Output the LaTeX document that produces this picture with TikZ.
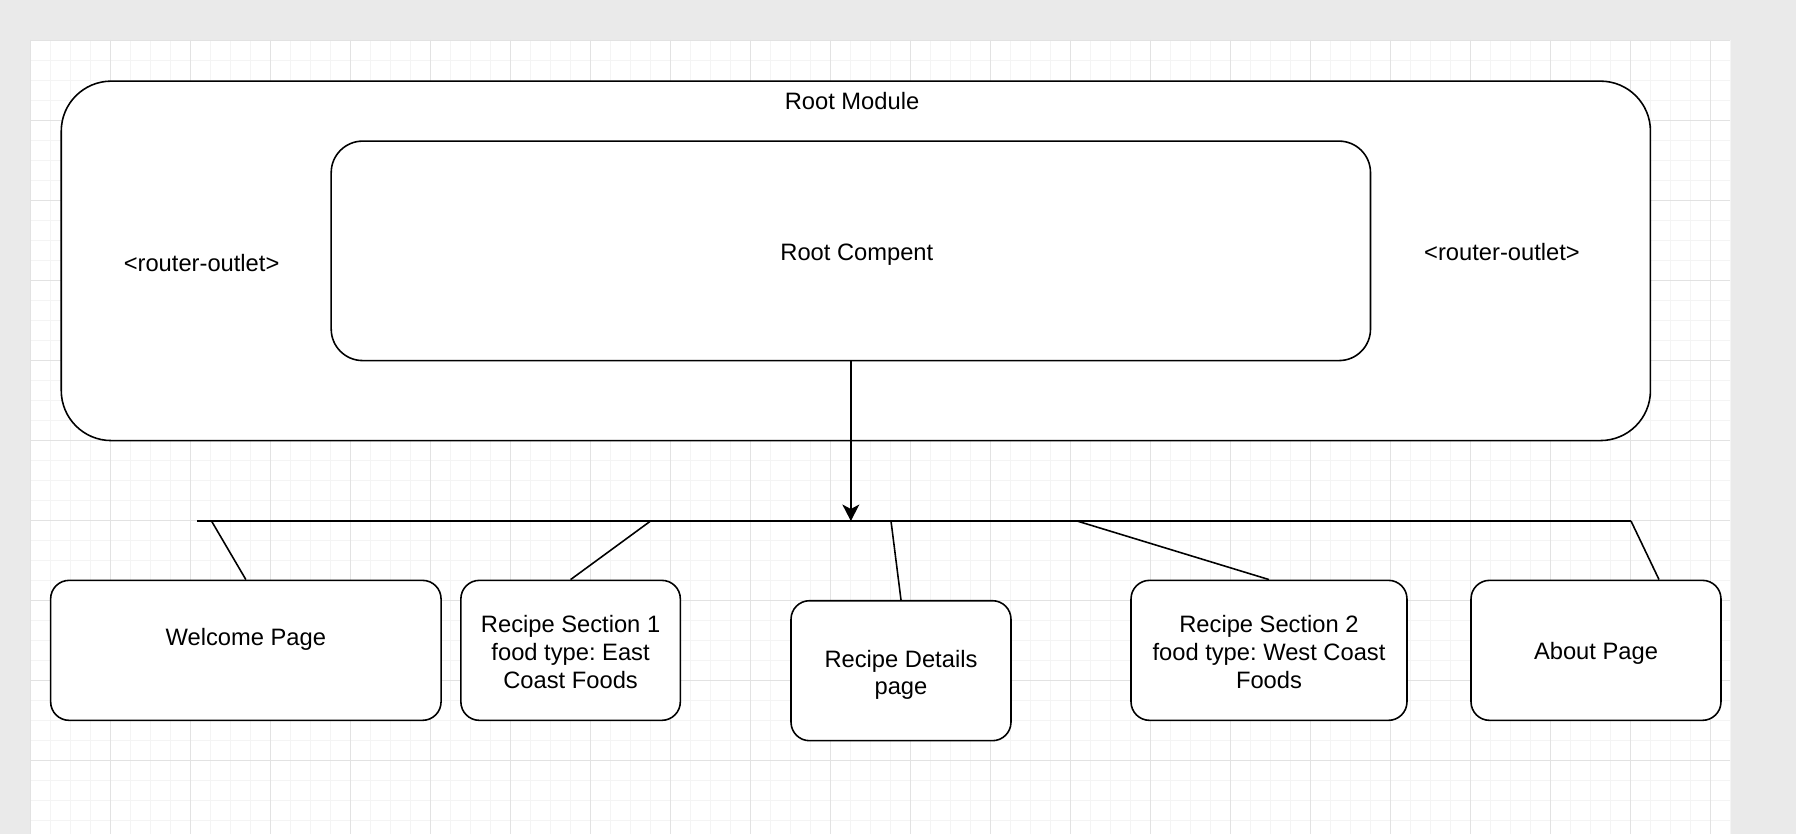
\documentclass[tikz,border=0pt]{standalone}
\usepackage{fontspec}
\setmainfont{Liberation Sans}
\usetikzlibrary{arrows.meta, calc}

\definecolor{canvas}{HTML}{EAEAEA}
\definecolor{gridlight}{HTML}{F4F4F4}
\definecolor{griddark}{HTML}{E2E2E2}
\newcommand{\boxfont}{\fontsize{13.5}{15.9}\selectfont\frenchspacing}
\newcommand{\topstrut}[1]{\rule{0pt}{#1}}

\begin{document}
\begin{tikzpicture}[x=0.02cm, y=-0.02cm,
    frame/.style={draw=black, line width=0.9pt, fill=white, inner sep=0pt, align=center, font=\boxfont},
    page/.style={frame, rounded corners=0.37cm, minimum height=2.8cm},
    link/.style={line width=0.9pt}
  ]

    % Canvas and grid
    \def\gymin{40}
    \def\gymax{834}
    \useasboundingbox (0,0) rectangle (1796,834);
    \fill[canvas] (0,0) rectangle (1796,834);
    \fill[white] (30,\gymin) rectangle (1730,\gymax);
    \foreach \x in {30,50,...,1730}{
        \draw[gridlight, line width=0.55pt] (\x,\gymin) -- (\x,\gymax);
    }
    \foreach \y in {40,60,...,820}{
        \draw[gridlight, line width=0.55pt] (30,\y) -- (1730,\y);
    }
    \foreach \x in {30,110,...,1710}{
        \draw[griddark, line width=0.55pt] (\x,\gymin) -- (\x,\gymax);
    }
    \foreach \y in {40,120,...,760}{
        \draw[griddark, line width=0.55pt] (30,\y) -- (1730,\y);
    }

    % Root module with its component
    \node[frame, rounded corners=1cm, minimum width=31.79cm, minimum height=7.19cm] (rootmodule) at (855.85,260.85) {};
    \node[font=\boxfont] (moduletitle) at (852,101) {Root Module};
    \node[frame, rounded corners=0.63cm, minimum width=20.79cm, minimum height=4.39cm, text height=0.47cm] (rootcomp) at (850.85,250.85) {\hspace{0.24cm}Root Compent};
    \node[font=\boxfont] (outletleft) at (201.6,263) {<router-outlet>};
    \node[font=\boxfont] (outletright) at (1502,252.3) {<router-outlet>};

    % Pages
    \node[page, minimum width=7.81cm, text height=0.47cm, text depth=0.66cm] (welcome) at (245.85,650.35) {Welcome Page};
    \node[page, minimum width=4.39cm] (section1) at (570.6,650.35) {\topstrut{0.4cm}Recipe Section 1\\food type: East\\Coast Foods};
    \node[page, minimum width=4.4cm] (details) at (901,670.7) {\topstrut{0.51cm}Recipe Details\\page};
    \node[page, minimum width=5.52cm] (section2) at (1269,650.35) {\topstrut{0.4cm}Recipe Section 2\\food type: West Coast\\Foods};
    \node[page, minimum width=5cm, text height=0.45cm] (about) at (1596,650.35) {About Page};

    % Bus and taps
    \coordinate (busleft) at (197,521);
    \coordinate (busright) at (1631,521);
    \coordinate (tapwelcome) at (211.5,521);
    \coordinate (tapsection1) at (650.6,521);
    \coordinate (tapdetails) at (891,521);
    \coordinate (tapsection2) at (1077,521);
    \draw[link] (busleft) -- (busright);
    \draw[link, -{Stealth[length=0.33cm, width=0.34cm, inset=0.09cm]}] (rootcomp.south) -- (rootcomp.south |- busleft);
    \draw[link] (tapwelcome) -- (welcome.north);
    \draw[link] (tapsection1) -- (section1.north);
    \draw[link] (tapdetails) -- (details.north);
    \draw[link] (tapsection2) -- (section2.north);
    \draw[link] (busright) -- ($(about.north)+(63,0)$);

\end{tikzpicture}
\end{document}
